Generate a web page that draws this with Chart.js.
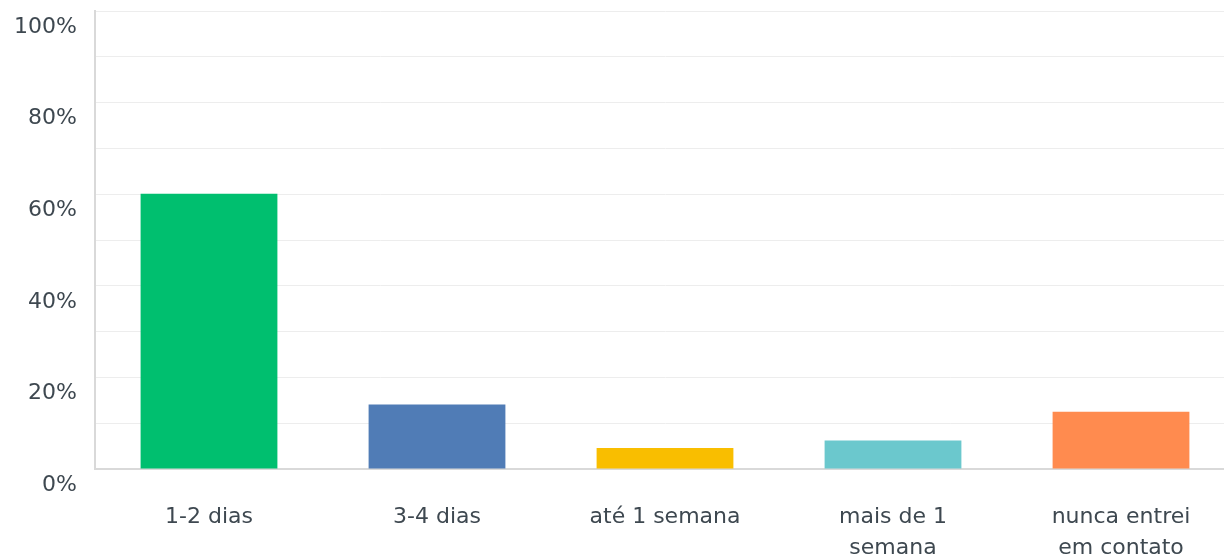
<!DOCTYPE html>
<html>
<head>
<meta charset="utf-8">
<script src="https://cdn.jsdelivr.net/npm/chart.js@4"></script>
<style>
  body { margin: 0; background: #fff; overflow: hidden; }
  #wrap { width: 1236px; height: 559px; }
</style>
</head>
<body>
<div id="wrap"><canvas id="barChart" width="1236" height="559"></canvas></div>
<script>
const categories = [
  '1-2 dias',
  '3-4 dias',
  'até 1 semana',
  ['mais de 1', 'semana'],
  ['nunca entrei', 'em contato']
];
const percentages = [60.1, 14.1, 4.6, 6.2, 12.5];
const barColors = ['#00bf6f', '#507cb6', '#f9be00', '#6bc8cd', '#ff8b4f'];

const textColor = '#3e4850';
const fontFamily = '"DejaVu Sans", sans-serif';

const ctx = document.getElementById('barChart').getContext('2d');
new Chart(ctx, {
  type: 'bar',
  data: {
    labels: categories,
    datasets: [{
      data: percentages,
      backgroundColor: barColors,
      borderWidth: 0,
      barPercentage: 0.6,
      categoryPercentage: 1
    }]
  },
  options: {
    responsive: false,
    animation: false,
    layout: { padding: { top: 11, right: 1 } },
    plugins: {
      legend: { display: false },
      tooltip: { enabled: false }
    },
    scales: {
      x: {
        grid: { display: false, drawTicks: false },
        border: { display: true, color: '#d9d9d9', width: 2 },
        ticks: {
          color: textColor,
          padding: 33,
          maxRotation: 0,
          autoSkip: false,
          font: { family: fontFamily, size: 22, lineHeight: 1.4 }
        },
        afterFit: scale => { scale.height = 90; }
      },
      y: {
        min: 0,
        max: 100,
        grid: { color: '#ededed', lineWidth: 1, drawTicks: false },
        border: { display: true, color: '#d9d9d9', width: 2 },
        ticks: {
          stepSize: 10,
          padding: 18,
          labelOffset: 16,
          color: textColor,
          font: { family: fontFamily, size: 22 },
          callback: v => (v % 20 === 0 ? v + '%' : '')
        },
        afterFit: scale => {
          scale.width = 95;
          scale.paddingTop = 0;
          scale.paddingBottom = 0;
        }
      }
    }
  }
});
</script>
</body>
</html>
